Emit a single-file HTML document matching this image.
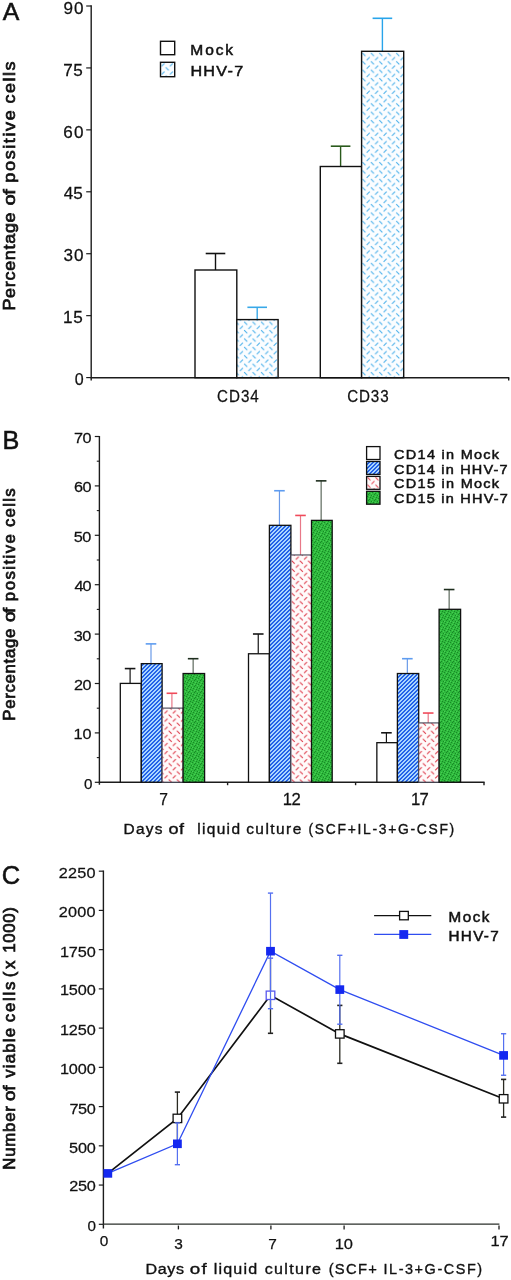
<!DOCTYPE html>
<html><head><meta charset="utf-8"><style>
html,body{margin:0;padding:0;background:#fff;}
svg{display:block;will-change:transform;}
text{font-family:"Liberation Sans", sans-serif;}
</style></head><body>
<svg width="511" height="1280" viewBox="0 0 511 1280"><defs>
<pattern id="pA" patternUnits="userSpaceOnUse" width="8.45" height="8.4" x="366.09" y="199.40"><rect width="8.45" height="8.4" fill="#fbfdff"/><g stroke="#45aeea" stroke-width="1.05"><line x1="-7.84" y1="-4.80" x2="-4.84" y2="-7.80"/><line x1="-3.61" y1="-3.60" x2="-0.61" y2="-0.60"/><line x1="-7.84" y1="3.60" x2="-4.84" y2="0.60"/><line x1="-3.61" y1="4.80" x2="-0.61" y2="7.80"/><line x1="-7.84" y1="12.00" x2="-4.84" y2="9.00"/><line x1="-3.61" y1="13.20" x2="-0.61" y2="16.20"/><line x1="0.61" y1="-4.80" x2="3.61" y2="-7.80"/><line x1="4.84" y1="-3.60" x2="7.84" y2="-0.60"/><line x1="0.61" y1="3.60" x2="3.61" y2="0.60"/><line x1="4.84" y1="4.80" x2="7.84" y2="7.80"/><line x1="0.61" y1="12.00" x2="3.61" y2="9.00"/><line x1="4.84" y1="13.20" x2="7.84" y2="16.20"/><line x1="9.06" y1="-4.80" x2="12.06" y2="-7.80"/><line x1="13.29" y1="-3.60" x2="16.29" y2="-0.60"/><line x1="9.06" y1="3.60" x2="12.06" y2="0.60"/><line x1="13.29" y1="4.80" x2="16.29" y2="7.80"/><line x1="9.06" y1="12.00" x2="12.06" y2="9.00"/><line x1="13.29" y1="13.20" x2="16.29" y2="16.20"/></g></pattern>
<pattern id="pAL" patternUnits="userSpaceOnUse" width="8.45" height="8.2" x="160.89" y="62.75"><rect width="8.45" height="8.2" fill="#fbfdff"/><g stroke="#45aeea" stroke-width="1.05"><line x1="-7.84" y1="-4.65" x2="-4.84" y2="-7.65"/><line x1="-3.61" y1="-3.55" x2="-0.61" y2="-0.55"/><line x1="-7.84" y1="3.55" x2="-4.84" y2="0.55"/><line x1="-3.61" y1="4.65" x2="-0.61" y2="7.65"/><line x1="-7.84" y1="11.75" x2="-4.84" y2="8.75"/><line x1="-3.61" y1="12.85" x2="-0.61" y2="15.85"/><line x1="0.61" y1="-4.65" x2="3.61" y2="-7.65"/><line x1="4.84" y1="-3.55" x2="7.84" y2="-0.55"/><line x1="0.61" y1="3.55" x2="3.61" y2="0.55"/><line x1="4.84" y1="4.65" x2="7.84" y2="7.65"/><line x1="0.61" y1="11.75" x2="3.61" y2="8.75"/><line x1="4.84" y1="12.85" x2="7.84" y2="15.85"/><line x1="9.06" y1="-4.65" x2="12.06" y2="-7.65"/><line x1="13.29" y1="-3.55" x2="16.29" y2="-0.55"/><line x1="9.06" y1="3.55" x2="12.06" y2="0.55"/><line x1="13.29" y1="4.65" x2="16.29" y2="7.65"/><line x1="9.06" y1="11.75" x2="12.06" y2="8.75"/><line x1="13.29" y1="12.85" x2="16.29" y2="15.85"/></g></pattern>
<pattern id="pR" patternUnits="userSpaceOnUse" width="8.2" height="8.1" x="422.35" y="730.27"><rect width="8.2" height="8.1" fill="#fffafa"/><g stroke="#de3a4a" stroke-width="1.1"><line x1="-7.65" y1="-7.57" x2="-4.65" y2="-4.57"/><line x1="-3.55" y1="-0.53" x2="-0.55" y2="-3.53"/><line x1="-7.65" y1="0.52" x2="-4.65" y2="3.52"/><line x1="-3.55" y1="7.57" x2="-0.55" y2="4.57"/><line x1="-7.65" y1="8.62" x2="-4.65" y2="11.62"/><line x1="-3.55" y1="15.67" x2="-0.55" y2="12.67"/><line x1="0.55" y1="-7.57" x2="3.55" y2="-4.57"/><line x1="4.65" y1="-0.53" x2="7.65" y2="-3.53"/><line x1="0.55" y1="0.52" x2="3.55" y2="3.52"/><line x1="4.65" y1="7.57" x2="7.65" y2="4.57"/><line x1="0.55" y1="8.62" x2="3.55" y2="11.62"/><line x1="4.65" y1="15.67" x2="7.65" y2="12.67"/><line x1="8.75" y1="-7.57" x2="11.75" y2="-4.57"/><line x1="12.85" y1="-0.53" x2="15.85" y2="-3.53"/><line x1="8.75" y1="0.52" x2="11.75" y2="3.52"/><line x1="12.85" y1="7.57" x2="15.85" y2="4.57"/><line x1="8.75" y1="8.62" x2="11.75" y2="11.62"/><line x1="12.85" y1="15.67" x2="15.85" y2="12.67"/></g></pattern>
<pattern id="pRL" patternUnits="userSpaceOnUse" width="8.0" height="7.5" x="367.00" y="476.93"><rect width="8.0" height="7.5" fill="#fffafa"/><g stroke="#e8505e" stroke-width="1.1"><line x1="-7.50" y1="-7.12" x2="-4.50" y2="-4.12"/><line x1="-3.50" y1="-0.38" x2="-0.50" y2="-3.38"/><line x1="-7.50" y1="0.38" x2="-4.50" y2="3.38"/><line x1="-3.50" y1="7.12" x2="-0.50" y2="4.12"/><line x1="-7.50" y1="7.88" x2="-4.50" y2="10.88"/><line x1="-3.50" y1="14.62" x2="-0.50" y2="11.62"/><line x1="0.50" y1="-7.12" x2="3.50" y2="-4.12"/><line x1="4.50" y1="-0.38" x2="7.50" y2="-3.38"/><line x1="0.50" y1="0.38" x2="3.50" y2="3.38"/><line x1="4.50" y1="7.12" x2="7.50" y2="4.12"/><line x1="0.50" y1="7.88" x2="3.50" y2="10.88"/><line x1="4.50" y1="14.62" x2="7.50" y2="11.62"/><line x1="8.50" y1="-7.12" x2="11.50" y2="-4.12"/><line x1="12.50" y1="-0.38" x2="15.50" y2="-3.38"/><line x1="8.50" y1="0.38" x2="11.50" y2="3.38"/><line x1="12.50" y1="7.12" x2="15.50" y2="4.12"/><line x1="8.50" y1="7.88" x2="11.50" y2="10.88"/><line x1="12.50" y1="14.62" x2="15.50" y2="11.62"/></g></pattern>
 <pattern id="pB" patternUnits="userSpaceOnUse" width="4" height="4" x="0" y="0">
  <rect width="4" height="4" fill="#2462e8"/>
  <path d="M0 0h1v1h-1z M3 1h1v1h-1z M2 2h1v1h-1z M1 3h1v1h-1z M1 0h1v1h-1z M0 1h1v1h-1z M3 2h1v1h-1z M2 3h1v1h-1z" fill="#aad6ff" shape-rendering="crispEdges"/>
 </pattern>
 <pattern id="pG" patternUnits="userSpaceOnUse" width="6" height="6" x="0" y="0">
  <rect width="6" height="6" fill="#2fb83d"/>
  <path d="M0 0h1v1h-1z M3 1h1v1h-1z M5 3h1v1h-1z M1 4h1v1h-1z M4 5h1v1h-1z M2 2h1v1h-1z" fill="#178a25" shape-rendering="crispEdges"/>
  <path d="M2 0h1v1h-1z M5 1h1v1h-1z M0 3h1v1h-1z M3 4h1v1h-1z" fill="#45d052" shape-rendering="crispEdges"/>
 </pattern>
</defs>
<line x1="91.20" y1="5.30" x2="91.20" y2="380.40" stroke="#1c1c1c" stroke-width="1.4" />
<line x1="86.20" y1="6.00" x2="91.20" y2="6.00" stroke="#1c1c1c" stroke-width="1.2" />
<line x1="86.20" y1="67.93" x2="91.20" y2="67.93" stroke="#1c1c1c" stroke-width="1.2" />
<line x1="86.20" y1="129.86" x2="91.20" y2="129.86" stroke="#1c1c1c" stroke-width="1.2" />
<line x1="86.20" y1="191.79" x2="91.20" y2="191.79" stroke="#1c1c1c" stroke-width="1.2" />
<line x1="86.20" y1="253.72" x2="91.20" y2="253.72" stroke="#1c1c1c" stroke-width="1.2" />
<line x1="86.20" y1="315.65" x2="91.20" y2="315.65" stroke="#1c1c1c" stroke-width="1.2" />
<line x1="86.20" y1="377.58" x2="91.20" y2="377.58" stroke="#1c1c1c" stroke-width="1.2" />
<line x1="90.50" y1="377.70" x2="509.30" y2="377.70" stroke="#1c1c1c" stroke-width="1.4" />
<line x1="508.70" y1="377.70" x2="508.70" y2="380.60" stroke="#1c1c1c" stroke-width="1.4" />
<line x1="215.50" y1="270.00" x2="215.50" y2="253.50" stroke="#111" stroke-width="1.4" />
<line x1="205.70" y1="253.50" x2="225.30" y2="253.50" stroke="#111" stroke-width="1.5999999999999999" />
<line x1="257.20" y1="319.60" x2="257.20" y2="307.30" stroke="#38a8e8" stroke-width="1.4" />
<line x1="247.40" y1="307.30" x2="267.00" y2="307.30" stroke="#38a8e8" stroke-width="1.5999999999999999" />
<line x1="340.60" y1="166.50" x2="340.60" y2="146.20" stroke="#2a5a1c" stroke-width="1.4" />
<line x1="330.80" y1="146.20" x2="350.40" y2="146.20" stroke="#2a5a1c" stroke-width="1.5999999999999999" />
<line x1="382.40" y1="51.30" x2="382.40" y2="18.30" stroke="#28a4ea" stroke-width="1.4" />
<line x1="372.60" y1="18.30" x2="392.20" y2="18.30" stroke="#28a4ea" stroke-width="1.5999999999999999" />
<rect x="195" y="270" width="41.80" height="107.70" fill="#fff" stroke="#111" stroke-width="1.4"/>
<rect x="236.8" y="319.6" width="41.30" height="58.10" fill="url(#pA)" stroke="#111" stroke-width="1.4"/>
<rect x="320.3" y="166.5" width="41.30" height="211.20" fill="#fff" stroke="#111" stroke-width="1.4"/>
<rect x="361.6" y="51.3" width="42.10" height="326.40" fill="url(#pA)" stroke="#111" stroke-width="1.4"/>
<rect x="160.5" y="41.3" width="14.2" height="13.4" fill="#fff" stroke="#111" stroke-width="1.4"/>
<rect x="160.5" y="62.3" width="14.2" height="14.4" fill="url(#pAL)" stroke="#111" stroke-width="1.4"/>
<line x1="99.40" y1="436.00" x2="99.40" y2="784.80" stroke="#1c1c1c" stroke-width="1.4" />
<line x1="94.80" y1="436.50" x2="99.40" y2="436.50" stroke="#1c1c1c" stroke-width="1.2" />
<line x1="96.80" y1="461.20" x2="99.40" y2="461.20" stroke="#1c1c1c" stroke-width="1.1" />
<line x1="94.80" y1="485.90" x2="99.40" y2="485.90" stroke="#1c1c1c" stroke-width="1.2" />
<line x1="96.80" y1="510.60" x2="99.40" y2="510.60" stroke="#1c1c1c" stroke-width="1.1" />
<line x1="94.80" y1="535.30" x2="99.40" y2="535.30" stroke="#1c1c1c" stroke-width="1.2" />
<line x1="96.80" y1="560.00" x2="99.40" y2="560.00" stroke="#1c1c1c" stroke-width="1.1" />
<line x1="94.80" y1="584.70" x2="99.40" y2="584.70" stroke="#1c1c1c" stroke-width="1.2" />
<line x1="96.80" y1="609.40" x2="99.40" y2="609.40" stroke="#1c1c1c" stroke-width="1.1" />
<line x1="94.80" y1="634.10" x2="99.40" y2="634.10" stroke="#1c1c1c" stroke-width="1.2" />
<line x1="96.80" y1="658.80" x2="99.40" y2="658.80" stroke="#1c1c1c" stroke-width="1.1" />
<line x1="94.80" y1="683.50" x2="99.40" y2="683.50" stroke="#1c1c1c" stroke-width="1.2" />
<line x1="96.80" y1="708.20" x2="99.40" y2="708.20" stroke="#1c1c1c" stroke-width="1.1" />
<line x1="94.80" y1="732.90" x2="99.40" y2="732.90" stroke="#1c1c1c" stroke-width="1.2" />
<line x1="96.80" y1="757.60" x2="99.40" y2="757.60" stroke="#1c1c1c" stroke-width="1.1" />
<line x1="94.80" y1="782.30" x2="99.40" y2="782.30" stroke="#1c1c1c" stroke-width="1.2" />
<line x1="98.80" y1="782.20" x2="484.60" y2="782.20" stroke="#1c1c1c" stroke-width="1.4" />
<line x1="227.60" y1="782.20" x2="227.60" y2="785.20" stroke="#1c1c1c" stroke-width="1.4" />
<line x1="355.60" y1="782.20" x2="355.60" y2="785.20" stroke="#1c1c1c" stroke-width="1.4" />
<line x1="484.00" y1="782.20" x2="484.00" y2="785.20" stroke="#1c1c1c" stroke-width="1.4" />
<line x1="130.10" y1="683.40" x2="130.10" y2="668.58" stroke="#151515" stroke-width="1.2" />
<line x1="124.80" y1="668.58" x2="135.40" y2="668.58" stroke="#151515" stroke-width="1.6" />
<line x1="151.00" y1="663.64" x2="151.00" y2="643.88" stroke="#6a9ae8" stroke-width="1.2" />
<line x1="145.70" y1="643.88" x2="156.30" y2="643.88" stroke="#5e9cf0" stroke-width="1.6" />
<line x1="171.90" y1="708.10" x2="171.90" y2="693.28" stroke="#e87888" stroke-width="1.2" />
<line x1="166.60" y1="693.28" x2="177.20" y2="693.28" stroke="#f04a5a" stroke-width="1.6" />
<line x1="193.15" y1="673.52" x2="193.15" y2="658.70" stroke="#5e6a5e" stroke-width="1.2" />
<line x1="187.85" y1="658.70" x2="198.45" y2="658.70" stroke="#1e2e1e" stroke-width="1.6" />
<rect x="120.30" y="683.40" width="21.00" height="98.80" fill="#fff" stroke="#111" stroke-width="1.3"/>
<rect x="141.30" y="663.64" width="20.80" height="118.56" fill="url(#pB)" stroke="#111" stroke-width="1.3"/>
<rect x="162.10" y="708.10" width="21.00" height="74.10" fill="url(#pR)" stroke="#445" stroke-width="1.1"/>
<rect x="183.10" y="673.52" width="21.50" height="108.68" fill="url(#pG)" stroke="#111" stroke-width="1.3"/>
<line x1="258.25" y1="653.76" x2="258.25" y2="634.00" stroke="#151515" stroke-width="1.2" />
<line x1="252.95" y1="634.00" x2="263.55" y2="634.00" stroke="#151515" stroke-width="1.6" />
<line x1="279.45" y1="525.32" x2="279.45" y2="490.74" stroke="#6a9ae8" stroke-width="1.2" />
<line x1="274.15" y1="490.74" x2="284.75" y2="490.74" stroke="#5e9cf0" stroke-width="1.6" />
<line x1="300.50" y1="554.96" x2="300.50" y2="515.44" stroke="#e87888" stroke-width="1.2" />
<line x1="295.20" y1="515.44" x2="305.80" y2="515.44" stroke="#f04a5a" stroke-width="1.6" />
<line x1="321.15" y1="520.38" x2="321.15" y2="480.86" stroke="#5e6a5e" stroke-width="1.2" />
<line x1="315.85" y1="480.86" x2="326.45" y2="480.86" stroke="#1e2e1e" stroke-width="1.6" />
<rect x="248.50" y="653.76" width="20.90" height="128.44" fill="#fff" stroke="#111" stroke-width="1.3"/>
<rect x="269.40" y="525.32" width="21.50" height="256.88" fill="url(#pB)" stroke="#111" stroke-width="1.3"/>
<rect x="290.90" y="554.96" width="20.60" height="227.24" fill="url(#pR)" stroke="#445" stroke-width="1.1"/>
<rect x="311.50" y="520.38" width="20.70" height="261.82" fill="url(#pG)" stroke="#111" stroke-width="1.3"/>
<line x1="386.43" y1="742.68" x2="386.43" y2="732.80" stroke="#151515" stroke-width="1.2" />
<line x1="381.12" y1="732.80" x2="391.73" y2="732.80" stroke="#151515" stroke-width="1.6" />
<line x1="407.35" y1="673.52" x2="407.35" y2="658.70" stroke="#6a9ae8" stroke-width="1.2" />
<line x1="402.05" y1="658.70" x2="412.65" y2="658.70" stroke="#5e9cf0" stroke-width="1.6" />
<line x1="428.20" y1="722.92" x2="428.20" y2="713.04" stroke="#e87888" stroke-width="1.2" />
<line x1="422.90" y1="713.04" x2="433.50" y2="713.04" stroke="#f04a5a" stroke-width="1.6" />
<line x1="449.15" y1="609.30" x2="449.15" y2="589.54" stroke="#5e6a5e" stroke-width="1.2" />
<line x1="443.85" y1="589.54" x2="454.45" y2="589.54" stroke="#1e2e1e" stroke-width="1.6" />
<rect x="376.85" y="742.68" width="20.55" height="39.52" fill="#fff" stroke="#111" stroke-width="1.3"/>
<rect x="397.40" y="673.52" width="21.30" height="108.68" fill="url(#pB)" stroke="#111" stroke-width="1.3"/>
<rect x="418.70" y="722.92" width="20.40" height="59.28" fill="url(#pR)" stroke="#445" stroke-width="1.1"/>
<rect x="439.10" y="609.30" width="21.50" height="172.90" fill="url(#pG)" stroke="#111" stroke-width="1.3"/>
<rect x="366.6" y="446.6" width="13.4" height="12.9" fill="#fff" stroke="#111" stroke-width="1.3"/>
<rect x="366.6" y="461.5" width="13.4" height="12.9" fill="url(#pB)" stroke="#111" stroke-width="1.3"/>
<rect x="366.6" y="476.4" width="13.4" height="12.9" fill="url(#pRL)" stroke="#111" stroke-width="1.3"/>
<rect x="366.6" y="491.3" width="13.4" height="12.9" fill="url(#pG)" stroke="#111" stroke-width="1.3"/>
<line x1="103.40" y1="870.40" x2="103.40" y2="1228.60" stroke="#1c1c1c" stroke-width="1.4" />
<line x1="98.80" y1="1224.30" x2="103.40" y2="1224.30" stroke="#1c1c1c" stroke-width="1.2" />
<line x1="98.80" y1="1185.06" x2="103.40" y2="1185.06" stroke="#1c1c1c" stroke-width="1.2" />
<line x1="98.80" y1="1145.83" x2="103.40" y2="1145.83" stroke="#1c1c1c" stroke-width="1.2" />
<line x1="98.80" y1="1106.59" x2="103.40" y2="1106.59" stroke="#1c1c1c" stroke-width="1.2" />
<line x1="98.80" y1="1067.36" x2="103.40" y2="1067.36" stroke="#1c1c1c" stroke-width="1.2" />
<line x1="98.80" y1="1028.12" x2="103.40" y2="1028.12" stroke="#1c1c1c" stroke-width="1.2" />
<line x1="98.80" y1="988.88" x2="103.40" y2="988.88" stroke="#1c1c1c" stroke-width="1.2" />
<line x1="98.80" y1="949.65" x2="103.40" y2="949.65" stroke="#1c1c1c" stroke-width="1.2" />
<line x1="98.80" y1="910.41" x2="103.40" y2="910.41" stroke="#1c1c1c" stroke-width="1.2" />
<line x1="98.80" y1="871.18" x2="103.40" y2="871.18" stroke="#1c1c1c" stroke-width="1.2" />
<line x1="103.00" y1="1224.10" x2="499.40" y2="1224.10" stroke="#2a2f2a" stroke-width="1.4" />
<line x1="178.40" y1="1225.60" x2="178.40" y2="1229.40" stroke="#1c1c1c" stroke-width="1.3" />
<line x1="270.90" y1="1225.60" x2="270.90" y2="1229.40" stroke="#1c1c1c" stroke-width="1.3" />
<line x1="344.10" y1="1225.60" x2="344.10" y2="1229.40" stroke="#1c1c1c" stroke-width="1.3" />
<line x1="499.00" y1="1225.60" x2="499.00" y2="1229.40" stroke="#1c1c1c" stroke-width="1.3" />
<line x1="177.40" y1="1092.10" x2="177.40" y2="1144.70" stroke="#2a2a22" stroke-width="1.3" />
<line x1="174.80" y1="1092.10" x2="180.00" y2="1092.10" stroke="#222" stroke-width="1.6" />
<line x1="174.80" y1="1144.70" x2="180.00" y2="1144.70" stroke="#222" stroke-width="1.6" />
<line x1="270.50" y1="958.20" x2="270.50" y2="1033.30" stroke="#2a2a22" stroke-width="1.3" />
<line x1="267.90" y1="958.20" x2="273.10" y2="958.20" stroke="#6a78f0" stroke-width="1.6" />
<line x1="267.90" y1="1033.30" x2="273.10" y2="1033.30" stroke="#222" stroke-width="1.6" />
<line x1="339.80" y1="1005.40" x2="339.80" y2="1063.30" stroke="#2a2a22" stroke-width="1.3" />
<line x1="337.20" y1="1005.40" x2="342.40" y2="1005.40" stroke="#222" stroke-width="1.6" />
<line x1="337.20" y1="1063.30" x2="342.40" y2="1063.30" stroke="#222" stroke-width="1.6" />
<line x1="503.60" y1="1079.40" x2="503.60" y2="1117.10" stroke="#2a2a22" stroke-width="1.3" />
<line x1="501.00" y1="1079.40" x2="506.20" y2="1079.40" stroke="#222" stroke-width="1.6" />
<line x1="501.00" y1="1117.10" x2="506.20" y2="1117.10" stroke="#222" stroke-width="1.6" />
<polyline fill="none" stroke="#111" stroke-width="1.7" points="107.8,1173.4 177.4,1118.4 270.5,995.3 339.8,1033.9 503.6,1098.8"/>
<rect x="173.10" y="1114.20" width="8.6" height="8.4" fill="#fff" stroke="#111" stroke-width="1.3"/>
<rect x="266.20" y="991.10" width="8.6" height="8.4" fill="#fff" stroke="#5858ee" stroke-width="1.3"/>
<rect x="335.50" y="1029.70" width="8.6" height="8.4" fill="#fff" stroke="#111" stroke-width="1.3"/>
<rect x="499.30" y="1094.60" width="8.6" height="8.4" fill="#fff" stroke="#111" stroke-width="1.3"/>
<line x1="177.40" y1="1122.90" x2="177.40" y2="1164.70" stroke="#5570f0" stroke-width="1.2" />
<line x1="174.80" y1="1122.90" x2="180.00" y2="1122.90" stroke="#5570f0" stroke-width="1.4" />
<line x1="174.80" y1="1164.70" x2="180.00" y2="1164.70" stroke="#5570f0" stroke-width="1.4" />
<line x1="270.50" y1="893.10" x2="270.50" y2="1008.70" stroke="#5570f0" stroke-width="1.2" />
<line x1="267.90" y1="893.10" x2="273.10" y2="893.10" stroke="#5570f0" stroke-width="1.4" />
<line x1="267.90" y1="1008.70" x2="273.10" y2="1008.70" stroke="#5570f0" stroke-width="1.4" />
<line x1="339.80" y1="955.30" x2="339.80" y2="1024.20" stroke="#5570f0" stroke-width="1.2" />
<line x1="337.20" y1="955.30" x2="342.40" y2="955.30" stroke="#5570f0" stroke-width="1.4" />
<line x1="337.20" y1="1024.20" x2="342.40" y2="1024.20" stroke="#5570f0" stroke-width="1.4" />
<line x1="503.60" y1="1033.75" x2="503.60" y2="1075.25" stroke="#5570f0" stroke-width="1.2" />
<line x1="501.00" y1="1033.75" x2="506.20" y2="1033.75" stroke="#5570f0" stroke-width="1.4" />
<line x1="501.00" y1="1075.25" x2="506.20" y2="1075.25" stroke="#5570f0" stroke-width="1.4" />
<polyline fill="none" stroke="#2f4df0" stroke-width="1.3" points="107.8,1173.4 177.4,1143.8 270.5,951.2 339.8,989.6 503.6,1055.4"/>
<rect x="103.40" y="1169.10" width="8.8" height="8.6" fill="#1428f0"/>
<rect x="173.00" y="1139.50" width="8.8" height="8.6" fill="#1428f0"/>
<rect x="266.10" y="946.90" width="8.8" height="8.6" fill="#1428f0"/>
<rect x="335.40" y="985.30" width="8.8" height="8.6" fill="#1428f0"/>
<rect x="499.20" y="1051.10" width="8.8" height="8.6" fill="#1428f0"/>
<line x1="374.10" y1="915.60" x2="431.30" y2="915.60" stroke="#111" stroke-width="1.4" />
<rect x="399.6" y="911.4" width="8.7" height="8.4" fill="#fff" stroke="#111" stroke-width="1.3"/>
<line x1="374.10" y1="934.40" x2="431.30" y2="934.40" stroke="#2f4df0" stroke-width="1.2" />
<rect x="399.3" y="930.1" width="8.9" height="8.8" fill="#1428f0"/>
<text x="0" y="0" font-size="24.80" font-weight="normal" fill="#111" stroke="#111" stroke-width="0.55" transform="translate(2.83 19.84)" style="white-space:pre">A</text>
<text x="0" y="0" font-size="16.00" font-weight="normal" fill="#111" stroke="#111" stroke-width="0.25" textLength="18.89" lengthAdjust="spacing" transform="translate(63.42 13.59) scale(1.07 1)" style="white-space:pre">90</text>
<text x="0" y="0" font-size="16.00" font-weight="normal" fill="#111" stroke="#111" stroke-width="0.25" textLength="18.22" lengthAdjust="spacing" transform="translate(63.32 75.77) scale(1.07 1)" style="white-space:pre">75</text>
<text x="0" y="0" font-size="16.00" font-weight="normal" fill="#111" stroke="#111" stroke-width="0.25" textLength="18.89" lengthAdjust="spacing" transform="translate(63.37 137.70) scale(1.07 1)" style="white-space:pre">60</text>
<text x="0" y="0" font-size="16.00" font-weight="normal" fill="#111" stroke="#111" stroke-width="0.25" textLength="17.66" lengthAdjust="spacing" transform="translate(63.78 199.13) scale(1.07 1)" style="white-space:pre">45</text>
<text x="0" y="0" font-size="16.00" font-weight="normal" fill="#111" stroke="#111" stroke-width="0.25" textLength="18.79" lengthAdjust="spacing" transform="translate(63.52 260.85) scale(1.07 1)" style="white-space:pre">30</text>
<text x="0" y="0" font-size="16.00" font-weight="normal" fill="#111" stroke="#111" stroke-width="0.25" textLength="18.53" lengthAdjust="spacing" transform="translate(62.99 322.80) scale(1.07 1)" style="white-space:pre">15</text>
<text x="0" y="0" font-size="16.00" font-weight="normal" fill="#111" stroke="#111" stroke-width="0.25" transform="translate(74.65 385.31)" style="white-space:pre">0</text>
<text x="0" y="0" font-size="14.53" font-weight="normal" fill="#111" stroke="#111" stroke-width="0.5" textLength="39.98" lengthAdjust="spacing" transform="translate(190.33 54.75) scale(1.07 1)" style="white-space:pre">Mock</text>
<text x="0" y="0" font-size="15.12" font-weight="normal" fill="#111" stroke="#111" stroke-width="0.5" textLength="49.27" lengthAdjust="spacing" transform="translate(190.44 75.55) scale(1.07 1)" style="white-space:pre">HHV-7</text>
<text x="0" y="0" font-size="15.80" font-weight="normal" fill="#111" stroke="#111" stroke-width="0.25" textLength="43.52" lengthAdjust="spacing" transform="translate(217.02 401.79) scale(0.96 1)" style="white-space:pre">CD34</text>
<text x="0" y="0" font-size="15.80" font-weight="normal" fill="#111" stroke="#111" stroke-width="0.25" textLength="43.18" lengthAdjust="spacing" transform="translate(347.20 401.80) scale(0.96 1)" style="white-space:pre">CD33</text>
<text x="0" y="0" font-size="16.86" font-weight="normal" fill="#111" stroke="#111" stroke-width="0.7" textLength="39.32" lengthAdjust="spacing" transform="translate(15.25 103.51) rotate(-90) scale(1.07 1)" style="white-space:pre">cells</text>
<text x="0" y="0" font-size="16.86" font-weight="normal" fill="#111" stroke="#111" stroke-width="0.7" textLength="67.69" lengthAdjust="spacing" transform="translate(15.25 182.65) rotate(-90) scale(1.07 1)" style="white-space:pre">positive</text>
<text x="0" y="0" font-size="16.86" font-weight="normal" fill="#111" stroke="#111" stroke-width="0.7" textLength="13.71" lengthAdjust="spacing" transform="translate(15.25 205.59) rotate(-90) scale(1.2 1)" style="white-space:pre">of</text>
<text x="0" y="0" font-size="16.86" font-weight="normal" fill="#111" stroke="#111" stroke-width="0.7" textLength="91.78" lengthAdjust="spacing" transform="translate(15.25 310.58) rotate(-90) scale(1.07 1)" style="white-space:pre">Percentage</text>
<text x="0" y="0" font-size="25.20" font-weight="normal" fill="#111" stroke="#111" stroke-width="0.55" transform="translate(2.55 448.83)" style="white-space:pre">B</text>
<text x="0" y="0" font-size="13.52" font-weight="normal" fill="#111" stroke="#111" stroke-width="0.5" textLength="98.08" lengthAdjust="spacing" transform="translate(394.10 458.95) scale(1.07 1)" style="white-space:pre">CD14 in Mock</text>
<text x="0" y="0" font-size="13.52" font-weight="normal" fill="#111" stroke="#111" stroke-width="0.5" textLength="106.12" lengthAdjust="spacing" transform="translate(394.10 473.65) scale(1.07 1)" style="white-space:pre">CD14 in HHV-7</text>
<text x="0" y="0" font-size="13.52" font-weight="normal" fill="#111" stroke="#111" stroke-width="0.5" textLength="98.08" lengthAdjust="spacing" transform="translate(394.10 488.25) scale(1.07 1)" style="white-space:pre">CD15 in Mock</text>
<text x="0" y="0" font-size="13.52" font-weight="normal" fill="#111" stroke="#111" stroke-width="0.5" textLength="106.30" lengthAdjust="spacing" transform="translate(394.10 502.95) scale(1.07 1)" style="white-space:pre">CD15 in HHV-7</text>
<text x="0" y="0" font-size="15.60" font-weight="normal" fill="#111" stroke="#111" stroke-width="0.25" transform="translate(159.29 804.84)" style="white-space:pre">7</text>
<text x="0" y="0" font-size="15.60" font-weight="normal" fill="#111" stroke="#111" stroke-width="0.25" textLength="16.85" lengthAdjust="spacing" transform="translate(282.67 804.73) scale(1.07 1)" style="white-space:pre">12</text>
<text x="0" y="0" font-size="15.60" font-weight="normal" fill="#111" stroke="#111" stroke-width="0.25" textLength="16.58" lengthAdjust="spacing" transform="translate(411.07 804.80) scale(1.07 1)" style="white-space:pre">17</text>
<text x="0" y="0" font-size="14.46" font-weight="normal" fill="#111" stroke="#111" stroke-width="0.35" textLength="36.33" lengthAdjust="spacing" transform="translate(123.58 833.73) scale(1.07 1)" style="white-space:pre">Days</text>
<text x="0" y="0" font-size="14.46" font-weight="normal" fill="#111" stroke="#111" stroke-width="0.35" textLength="12.46" lengthAdjust="spacing" transform="translate(168.38 833.73) scale(1.25 1)" style="white-space:pre">of</text>
<text x="0" y="0" font-size="14.46" font-weight="normal" fill="#111" stroke="#111" stroke-width="0.35" textLength="40.07" lengthAdjust="spacing" transform="translate(197.14 833.73) scale(1.07 1)" style="white-space:pre">liquid</text>
<text x="0" y="0" font-size="14.46" font-weight="normal" fill="#111" stroke="#111" stroke-width="0.35" textLength="51.46" lengthAdjust="spacing" transform="translate(246.21 833.73) scale(1.07 1)" style="white-space:pre">culture</text>
<text x="0" y="0" font-size="14.46" font-weight="normal" fill="#111" stroke="#111" stroke-width="0.35" textLength="151.73" lengthAdjust="spacing" transform="translate(308.53 833.73) scale(0.96 1)" style="white-space:pre">(SCF+IL-3+G-CSF)</text>
<text x="0" y="0" font-size="15.70" font-weight="normal" fill="#111" stroke="#111" stroke-width="0.7" textLength="36.04" lengthAdjust="spacing" transform="translate(14.95 527.02) rotate(-90) scale(1.07 1)" style="white-space:pre">cells</text>
<text x="0" y="0" font-size="15.70" font-weight="normal" fill="#111" stroke="#111" stroke-width="0.7" textLength="62.67" lengthAdjust="spacing" transform="translate(14.95 601.13) rotate(-90) scale(1.07 1)" style="white-space:pre">positive</text>
<text x="0" y="0" font-size="15.70" font-weight="normal" fill="#111" stroke="#111" stroke-width="0.7" textLength="11.85" lengthAdjust="spacing" transform="translate(14.95 621.99) rotate(-90) scale(1.2 1)" style="white-space:pre">of</text>
<text x="0" y="0" font-size="15.70" font-weight="normal" fill="#111" stroke="#111" stroke-width="0.7" textLength="85.94" lengthAdjust="spacing" transform="translate(14.95 720.67) rotate(-90) scale(1.07 1)" style="white-space:pre">Percentage</text>
<text x="0" y="0" font-size="15.20" font-weight="normal" fill="#111" stroke="#111" stroke-width="0.25" textLength="16.39" lengthAdjust="spacing" transform="translate(73.91 442.94) scale(1.07 1)" style="white-space:pre">70</text>
<text x="0" y="0" font-size="15.20" font-weight="normal" fill="#111" stroke="#111" stroke-width="0.25" textLength="16.40" lengthAdjust="spacing" transform="translate(73.98 491.89) scale(1.07 1)" style="white-space:pre">60</text>
<text x="0" y="0" font-size="15.20" font-weight="normal" fill="#111" stroke="#111" stroke-width="0.25" textLength="16.58" lengthAdjust="spacing" transform="translate(73.69 542.14) scale(1.07 1)" style="white-space:pre">50</text>
<text x="0" y="0" font-size="15.20" font-weight="normal" fill="#111" stroke="#111" stroke-width="0.25" textLength="16.00" lengthAdjust="spacing" transform="translate(74.44 591.16) scale(1.07 1)" style="white-space:pre">40</text>
<text x="0" y="0" font-size="15.20" font-weight="normal" fill="#111" stroke="#111" stroke-width="0.25" textLength="16.45" lengthAdjust="spacing" transform="translate(73.81 640.81) scale(1.07 1)" style="white-space:pre">30</text>
<text x="0" y="0" font-size="15.20" font-weight="normal" fill="#111" stroke="#111" stroke-width="0.25" textLength="16.41" lengthAdjust="spacing" transform="translate(74.02 689.74) scale(1.07 1)" style="white-space:pre">20</text>
<text x="0" y="0" font-size="15.20" font-weight="normal" fill="#111" stroke="#111" stroke-width="0.25" textLength="16.72" lengthAdjust="spacing" transform="translate(73.58 739.34) scale(1.07 1)" style="white-space:pre">10</text>
<text x="0" y="0" font-size="15.20" font-weight="normal" fill="#111" stroke="#111" stroke-width="0.25" transform="translate(84.05 789.16)" style="white-space:pre">0</text>
<text x="0" y="0" font-size="25.40" font-weight="normal" fill="#111" stroke="#111" stroke-width="0.55" transform="translate(1.78 883.88)" style="white-space:pre">C</text>
<text x="0" y="0" font-size="15.40" font-weight="normal" fill="#111" stroke="#111" stroke-width="0.25" transform="translate(99.77 1245.94)" style="white-space:pre">0</text>
<text x="0" y="0" font-size="15.40" font-weight="normal" fill="#111" stroke="#111" stroke-width="0.25" transform="translate(174.27 1249.49)" style="white-space:pre">3</text>
<text x="0" y="0" font-size="15.40" font-weight="normal" fill="#111" stroke="#111" stroke-width="0.25" transform="translate(268.17 1248.86)" style="white-space:pre">7</text>
<text x="0" y="0" font-size="15.40" font-weight="normal" fill="#111" stroke="#111" stroke-width="0.25" textLength="16.94" lengthAdjust="spacing" transform="translate(334.72 1248.65) scale(1.07 1)" style="white-space:pre">10</text>
<text x="0" y="0" font-size="15.40" font-weight="normal" fill="#111" stroke="#111" stroke-width="0.25" textLength="17.04" lengthAdjust="spacing" transform="translate(490.44 1245.79) scale(1.07 1)" style="white-space:pre">17</text>
<text x="0" y="0" font-size="15.04" font-weight="normal" fill="#111" stroke="#111" stroke-width="0.35" textLength="35.92" lengthAdjust="spacing" transform="translate(145.51 1274.03) scale(1.07 1)" style="white-space:pre">Days</text>
<text x="0" y="0" font-size="15.04" font-weight="normal" fill="#111" stroke="#111" stroke-width="0.35" textLength="13.58" lengthAdjust="spacing" transform="translate(189.87 1274.03) scale(1.25 1)" style="white-space:pre">of</text>
<text x="0" y="0" font-size="15.04" font-weight="normal" fill="#111" stroke="#111" stroke-width="0.35" textLength="40.68" lengthAdjust="spacing" transform="translate(213.65 1274.03) scale(1.07 1)" style="white-space:pre">liquid</text>
<text x="0" y="0" font-size="15.04" font-weight="normal" fill="#111" stroke="#111" stroke-width="0.35" textLength="52.69" lengthAdjust="spacing" transform="translate(264.69 1274.03) scale(1.07 1)" style="white-space:pre">culture</text>
<text x="0" y="0" font-size="15.04" font-weight="normal" fill="#111" stroke="#111" stroke-width="0.35" textLength="49.13" lengthAdjust="spacing" transform="translate(328.66 1274.03) scale(0.98 1)" style="white-space:pre">(SCF+</text>
<text x="0" y="0" font-size="15.04" font-weight="normal" fill="#111" stroke="#111" stroke-width="0.35" textLength="102.65" lengthAdjust="spacing" transform="translate(383.56 1274.03) scale(0.96 1)" style="white-space:pre">IL-3+G-CSF)</text>
<text x="0" y="0" font-size="15.70" font-weight="normal" fill="#111" stroke="#111" stroke-width="0.7" textLength="42.54" lengthAdjust="spacing" transform="translate(14.65 952.71) rotate(-90) scale(1.07 1)" style="white-space:pre">1000)</text>
<text x="0" y="0" font-size="15.70" font-weight="normal" fill="#111" stroke="#111" stroke-width="0.7" textLength="15.64" lengthAdjust="spacing" transform="translate(14.65 977.32) rotate(-90) scale(1.07 1)" style="white-space:pre">(x</text>
<text x="0" y="0" font-size="15.70" font-weight="normal" fill="#111" stroke="#111" stroke-width="0.7" textLength="37.94" lengthAdjust="spacing" transform="translate(14.65 1022.19) rotate(-90) scale(1.07 1)" style="white-space:pre">cells</text>
<text x="0" y="0" font-size="15.70" font-weight="normal" fill="#111" stroke="#111" stroke-width="0.7" textLength="46.65" lengthAdjust="spacing" transform="translate(14.65 1077.82) rotate(-90) scale(1.07 1)" style="white-space:pre">viable</text>
<text x="0" y="0" font-size="15.70" font-weight="normal" fill="#111" stroke="#111" stroke-width="0.7" textLength="12.87" lengthAdjust="spacing" transform="translate(14.65 1101.03) rotate(-90) scale(1.2 1)" style="white-space:pre">of</text>
<text x="0" y="0" font-size="15.70" font-weight="normal" fill="#111" stroke="#111" stroke-width="0.7" textLength="59.36" lengthAdjust="spacing" transform="translate(14.65 1169.67) rotate(-90) scale(1.07 1)" style="white-space:pre">Number</text>
<text x="0" y="0" font-size="14.24" font-weight="normal" fill="#111" stroke="#111" stroke-width="0.5" textLength="38.25" lengthAdjust="spacing" transform="translate(448.53 922.35) scale(1.07 1)" style="white-space:pre">Mock</text>
<text x="0" y="0" font-size="14.24" font-weight="normal" fill="#111" stroke="#111" stroke-width="0.5" textLength="46.91" lengthAdjust="spacing" transform="translate(448.53 941.15) scale(1.07 1)" style="white-space:pre">HHV-7</text>
<text x="0" y="0" font-size="15.20" font-weight="normal" fill="#111" stroke="#111" stroke-width="0.25" textLength="24.85" lengthAdjust="spacing" transform="translate(69.18 1191.36) scale(1.07 1)" style="white-space:pre">250</text>
<text x="0" y="0" font-size="15.20" font-weight="normal" fill="#111" stroke="#111" stroke-width="0.25" textLength="24.91" lengthAdjust="spacing" transform="translate(69.11 1152.76) scale(1.07 1)" style="white-space:pre">500</text>
<text x="0" y="0" font-size="15.20" font-weight="normal" fill="#111" stroke="#111" stroke-width="0.25" textLength="24.68" lengthAdjust="spacing" transform="translate(69.43 1113.79) scale(1.07 1)" style="white-space:pre">750</text>
<text x="0" y="0" font-size="15.20" font-weight="normal" fill="#111" stroke="#111" stroke-width="0.25" textLength="33.59" lengthAdjust="spacing" transform="translate(59.90 1073.80) scale(1.07 1)" style="white-space:pre">1000</text>
<text x="0" y="0" font-size="15.20" font-weight="normal" fill="#111" stroke="#111" stroke-width="0.25" textLength="33.59" lengthAdjust="spacing" transform="translate(59.90 1034.58) scale(1.07 1)" style="white-space:pre">1250</text>
<text x="0" y="0" font-size="15.20" font-weight="normal" fill="#111" stroke="#111" stroke-width="0.25" textLength="33.59" lengthAdjust="spacing" transform="translate(59.90 995.14) scale(1.07 1)" style="white-space:pre">1500</text>
<text x="0" y="0" font-size="15.20" font-weight="normal" fill="#111" stroke="#111" stroke-width="0.25" textLength="33.59" lengthAdjust="spacing" transform="translate(59.90 956.69) scale(1.07 1)" style="white-space:pre">1750</text>
<text x="0" y="0" font-size="15.20" font-weight="normal" fill="#111" stroke="#111" stroke-width="0.25" textLength="34.55" lengthAdjust="spacing" transform="translate(58.72 917.44) scale(1.07 1)" style="white-space:pre">2000</text>
<text x="0" y="0" font-size="15.20" font-weight="normal" fill="#111" stroke="#111" stroke-width="0.25" textLength="34.55" lengthAdjust="spacing" transform="translate(58.72 877.84) scale(1.07 1)" style="white-space:pre">2250</text>
<text x="0" y="0" font-size="15.20" font-weight="normal" fill="#111" stroke="#111" stroke-width="0.25" transform="translate(87.39 1230.91)" style="white-space:pre">0</text></svg>
</body></html>
